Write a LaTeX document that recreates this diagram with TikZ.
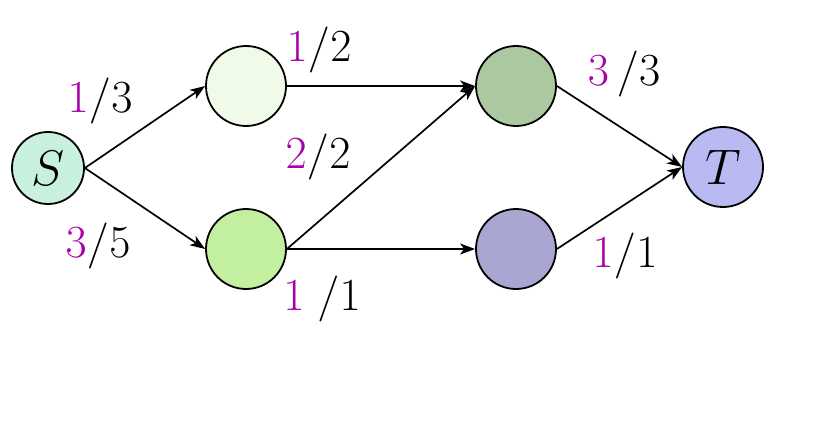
\RequirePackage{fix-cm}
\documentclass[tikz,border=0pt]{standalone}
\usetikzlibrary{arrows.meta}
\definecolor{flow}{RGB}{170,0,170}
\definecolor{cS}{RGB}{200,240,222}
\definecolor{cA}{RGB}{240,250,232}
\definecolor{cB}{RGB}{194,240,160}
\definecolor{cC}{RGB}{172,200,160}
\definecolor{cD}{RGB}{170,166,210}
\definecolor{cT}{RGB}{186,186,242}
\begin{document}
\begin{tikzpicture}[x=1pt,y=-1pt,
  vert/.style={circle,draw=black,line width=1.8pt,inner sep=0pt,minimum size=80pt,font=\fontsize{50}{54}\selectfont},
  edge/.style={line width=1.7pt,-{Stealth[length=15pt,width=11pt,inset=4pt]}},
  lab/.style={font=\fontsize{46}{50}\selectfont,inner sep=0pt,anchor=base}]
\useasboundingbox (0,0) rectangle (813,422);
\node[vert,minimum size=72pt,fill=cS] (S) at (48,168) {$S$};
\node[vert,fill=cA] (A) at (246,86) {};
\node[vert,fill=cB] (B) at (246,249) {};
\node[vert,fill=cC] (C) at (516,86) {};
\node[vert,fill=cD] (D) at (516,249) {};
\node[vert,fill=cT] (T) at (723,167) {$T$};
\draw[edge] (S.east) -- (A.west);
\draw[edge] (S.east) -- (B.west);
\draw[edge] (A.east) -- (C.west);
\draw[edge] (B.east) -- (C.west);
\draw[edge] (B.east) -- (D.west);
\draw[edge] (C.east) -- (T.west);
\draw[edge] (D.east) -- (T.west);
\node[lab] (l1) at (100,113) {$\textcolor{flow}{1}/3$};
\node[lab] (l2) at (98,257) {$\textcolor{flow}{3}/5$};
\node[lab] (l3) at (319,62) {$\textcolor{flow}{1}/2$};
\node[lab] (l4) at (318,169) {$\textcolor{flow}{2}/2$};
\node[lab] (l5) at (322,310) {$\textcolor{flow}{1}\;/1$};
\node[lab] (l6) at (624,86) {$\textcolor{flow}{3}\,/3$};
\node[lab] (l7) at (625,267) {$\textcolor{flow}{1}/1$};
\end{tikzpicture}
\end{document}
